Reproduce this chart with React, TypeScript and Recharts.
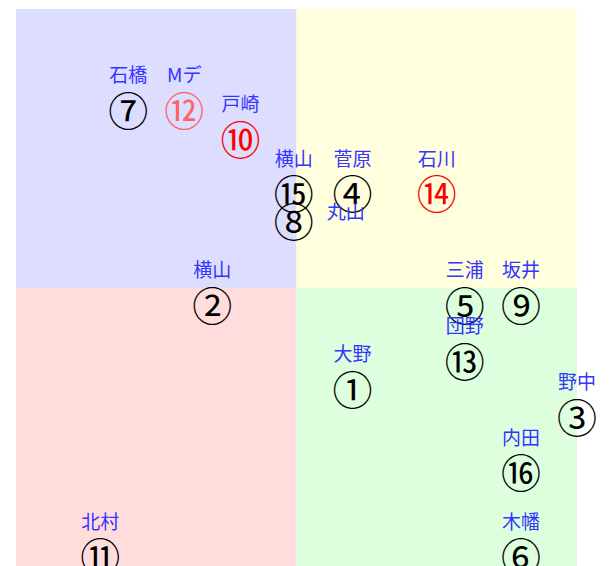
import { ScatterChart, Scatter, XAxis, YAxis, ReferenceArea } from "recharts"

// member number, name, position (x: -10..10, y: -10..10)
const ids = [1, 2, 3, 4, 5, 6, 7, 8, 9, 10, 11, 12, 13, 14, 15, 16]
const names = ["大野", "横山", "野中", "菅原", "三浦", "木幡", "石橋", "丸山", "坂井", "戸崎", "北村", "Mデ", "団野", "石川", "横山", "内田"]
const xVals = [2, -3, 10, 2, 6, 8, -6, -0.1, 8, -2, -7, -4, 6, 5, -0.1, 8]
const yVals = [-3.5, -0.5, -4.5, 3.5, -0.5, -9.5, 6.5, 2.5, -0.5, 5.45, -9.5, 6.5, -2.5, 3.5, 3.5, -6.5]
const hotIds = [10, 14]
const fadedIds = [12]
const sideLabelIds = [8]

const circled = (n: number) => String.fromCharCode(0x2460 + n - 1)

const data = ids.map((id, i) => ({ id, name: names[i], x: xVals[i], y: yVals[i] }))

const numColor = (id: number) =>
  hotIds.includes(id) ? "#ff0000" : fadedIds.includes(id) ? "#ff6464" : "#000000"

const Mark = (props: any) => {
  const { cx, cy, payload } = props
  const side = sideLabelIds.includes(payload.id)
  return (
    <g>
      <text
        x={cx}
        y={cy + 2}
        textAnchor="middle"
        dominantBaseline="central"
        fontSize={40}
        fontFamily="'Noto Sans CJK JP', serif"
        fill={numColor(payload.id)}
      >
        {circled(payload.id)}
      </text>
      <text
        x={side ? cx + 52 : cx}
        y={side ? cy - 8 : cy - 33}
        textAnchor="middle"
        dominantBaseline="central"
        fontSize={19}
        fontFamily="'Noto Sans CJK JP', serif"
        fill="#3535ff"
      >
        {payload.name}
      </text>
    </g>
  )
}

export default function App() {
  return (
    <div style={{ position: "absolute", left: 0, top: 0, width: 610, height: 566, background: "#fff" }}>
      <ScatterChart width={610} height={566} margin={{ top: 9, left: 16, right: 33, bottom: -1 }}>
        <XAxis type="number" dataKey="x" domain={[-10, 10]} hide />
        <YAxis type="number" dataKey="y" domain={[-10, 10]} hide />
        <ReferenceArea x1={-10} x2={0} y1={0} y2={10} fill="#ddddff" fillOpacity={1} />
        <ReferenceArea x1={0} x2={10} y1={0} y2={10} fill="#ffffdd" fillOpacity={1} />
        <ReferenceArea x1={-10} x2={0} y1={-10} y2={0} fill="#ffdddd" fillOpacity={1} />
        <ReferenceArea x1={0} x2={10} y1={-10} y2={0} fill="#ddffdd" fillOpacity={1} />
        <Scatter data={data} shape={Mark} isAnimationActive={false} />
      </ScatterChart>
    </div>
  )
}
